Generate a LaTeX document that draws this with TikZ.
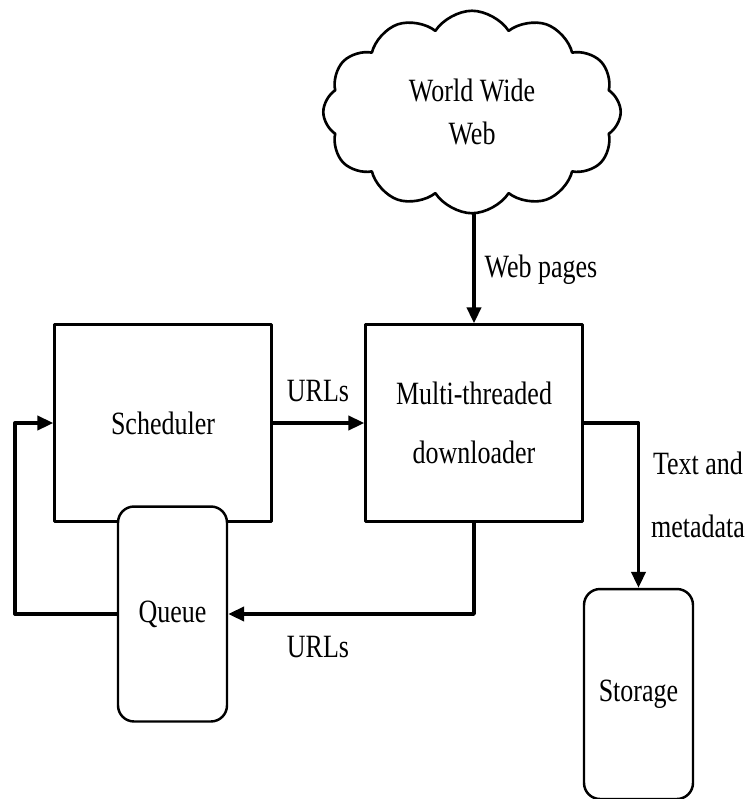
\documentclass[tikz,border=0pt]{standalone}
\usepackage{fontspec}
\setmainfont{Liberation Serif}[FakeStretch=0.8]
\usetikzlibrary{arrows.meta}
\usetikzlibrary{shapes.symbols}

\tikzset{
  block/.style={draw,line width=1.4pt,align=center,inner sep=0pt,minimum width=4.34cm,minimum height=3.94cm},
  drum/.style={draw,fill=white,line width=1.4pt,rounded corners=0.32cm,inner sep=0pt,minimum width=2.18cm},
  flow/.style={line width=1.9pt,-{Triangle[length=9pt,width=8pt]}},
  line/.style={line width=1.9pt},
  lbl/.style={inner sep=0pt,align=center}
}

\begin{document}
\begin{tikzpicture}[line cap=round,line join=round,x=0.02cm,y=-0.02cm,font=\fontsize{18.5}{22}\selectfont]
\useasboundingbox (0,0) rectangle (749,799);
\node [cloud,draw,line width=1.5pt,cloud puffs=12,cloud puff arc=115,aspect=1.25,align=center,minimum width=5.95cm,minimum height=4.05cm,inner sep=0pt] (www) at (472,112) {World Wide\\[2pt]Web};
\node [block] (sched) at (163,423) {Scheduler};
\node [block] (dl) at (474,423) {Multi-threaded\\[12pt]downloader};
\node [drum,minimum height=4.3cm] (queue) at (172.5,614) {Queue};
\node [drum,minimum height=4.2cm] (store) at (638.5,694) {Storage};
\coordinate (back) at (15,614);
\draw [flow] (www.south -| dl.north) -- (dl.north);
\draw [flow] (sched.east) -- (dl.west);
\draw [flow] (dl.south) |- (queue.east);
\draw [line] (queue.west) -- (back);
\draw [flow] (back) |- (sched.west);
\draw [flow] (dl.east) -| (store.north);
\node [lbl] (wplbl) at (541,270) {Web pages};
\node [lbl] (url1) at (318,391) {URLs};
\node [lbl] (url2) at (318,647) {URLs};
\node [lbl] (tmlbl) at (698,495) {Text and\\[14pt]metadata};
\end{tikzpicture}
\end{document}
